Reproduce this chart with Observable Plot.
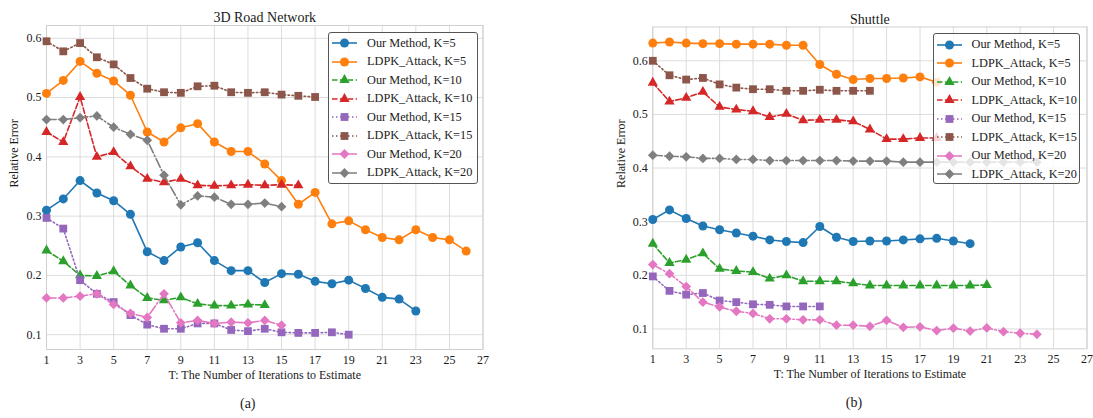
<!DOCTYPE html>
<html><head><meta charset="utf-8">
<script src="https://cdn.jsdelivr.net/npm/d3@7"></script>
<script src="https://cdn.jsdelivr.net/npm/@observablehq/plot@0.6"></script>
<style>
body{margin:0;background:#fff;}
#fig{position:relative;width:1093px;height:418px;overflow:hidden;background:#fff;font-family:"Liberation Serif","Times New Roman",serif;}
.panel{position:absolute;top:0;}
.panel text{font-family:"Liberation Serif","Times New Roman",serif;}
.legend{position:absolute;background:rgba(255,255,255,0.8);border:1px solid #555;border-radius:3px;box-sizing:border-box;padding:1.5px 0 0 3px;font-size:12.3px;color:#222;font-family:"Liberation Serif","Times New Roman",serif;}
.legend .row{display:flex;align-items:center;height:18.5px;white-space:nowrap;}
.legend svg{margin-right:10px;flex:none;}
</style></head><body><div id="fig"></div>
<script>
// ---- tick labels ----
const T_TICKS = [1,3,5,7,9,11,13,15,17,19,21,23,25,27];
const Y_TICKS = [0.1,0.2,0.3,0.4,0.5,0.6];
const X_LABEL = "T: The Number of Iterations to Estimate";
const Y_LABEL = "Relative Error";
const SERIES_NAMES = ["Our Method, K=5","LDPK_Attack, K=5","Our Method, K=10","LDPK_Attack, K=10",
                      "Our Method, K=15","LDPK_Attack, K=15","Our Method, K=20","LDPK_Attack, K=20"];

// ---- (a) 3D Road Network, values for T = 1, 2, 3, ... ----
const road_our_k5   = [0.310,0.329,0.360,0.339,0.326,0.303,0.240,0.225,0.248,0.255,0.225,0.208,0.208,0.188,0.203,0.202,0.190,0.186,0.192,0.178,0.163,0.160,0.140];
const road_ldpk_k5  = [0.507,0.529,0.561,0.541,0.528,0.504,0.442,0.425,0.449,0.456,0.425,0.409,0.409,0.388,0.360,0.320,0.340,0.287,0.292,0.277,0.264,0.260,0.277,0.264,0.260,0.241];
const road_our_k10  = [0.242,0.224,0.200,0.199,0.207,0.183,0.162,0.158,0.163,0.152,0.149,0.149,0.151,0.150];
const road_ldpk_k10 = [0.442,0.425,0.501,0.400,0.408,0.384,0.363,0.357,0.363,0.352,0.351,0.352,0.353,0.352,0.353,0.352];
const road_our_k15  = [0.297,0.279,0.192,0.169,0.155,0.133,0.117,0.110,0.110,0.119,0.119,0.108,0.106,0.110,0.104,0.103,0.103,0.104,0.100];
const road_ldpk_k15 = [0.595,0.578,0.592,0.568,0.556,0.533,0.515,0.509,0.508,0.519,0.520,0.509,0.508,0.509,0.505,0.503,0.501];
const road_our_k20  = [0.162,0.162,0.165,0.169,0.151,0.136,0.129,0.169,0.120,0.124,0.119,0.121,0.120,0.124,0.116];
const road_ldpk_k20 = [0.463,0.463,0.466,0.469,0.450,0.438,0.428,0.369,0.319,0.334,0.332,0.320,0.320,0.322,0.316];

// ---- (b) Shuttle ----
const sh_our_k5   = [0.304,0.322,0.306,0.292,0.285,0.279,0.273,0.266,0.263,0.261,0.291,0.271,0.263,0.264,0.264,0.266,0.268,0.269,0.264,0.259];
const sh_ldpk_k5  = [0.633,0.635,0.633,0.632,0.632,0.631,0.631,0.631,0.629,0.629,0.593,0.575,0.565,0.567,0.567,0.568,0.570,0.560];
const sh_our_k10  = [0.259,0.223,0.229,0.241,0.212,0.208,0.206,0.194,0.200,0.189,0.189,0.189,0.185,0.181,0.181,0.181,0.181,0.181,0.181,0.181,0.182];
const sh_ldpk_k10 = [0.559,0.524,0.531,0.542,0.514,0.509,0.506,0.495,0.501,0.489,0.490,0.490,0.487,0.472,0.454,0.454,0.456,0.456];
const sh_our_k15  = [0.198,0.171,0.164,0.167,0.153,0.150,0.146,0.145,0.142,0.142,0.142];
const sh_ldpk_k15 = [0.600,0.573,0.565,0.568,0.556,0.550,0.547,0.547,0.544,0.544,0.546,0.544,0.544,0.544];
const sh_our_k20  = [0.220,0.203,0.179,0.150,0.141,0.133,0.129,0.119,0.119,0.117,0.117,0.107,0.107,0.105,0.116,0.103,0.104,0.097,0.1015,0.096,0.102,0.095,0.092,0.090];
const sh_ldpk_k20 = [0.424,0.422,0.421,0.418,0.418,0.416,0.416,0.414,0.414,0.414,0.414,0.414,0.413,0.413,0.413,0.411,0.411,0.411,0.411,0.411,0.411,0.411,0.411,0.411];

// ---- styles ----
const FONT = '"Liberation Serif","Times New Roman",serif';
const DASHED = "5.5,2.4", DOTTED = "1.5,2.5", DASHDOT = "9.6,2.4,1.5,2.4";
const STYLES = [
  {color:"#1f77b4", dash:null,    symbol:"circle",   r:4.5},
  {color:"#ff7f0e", dash:null,    symbol:"circle",   r:4.5},
  {color:"#2ca02c", dash:DASHED,  symbol:"triangle", r:3.8},
  {color:"#d62728", dash:DASHED,  symbol:"triangle", r:3.8},
  {color:"#9467bd", dash:DOTTED,  symbol:"square",   r:4.4},
  {color:"#8c564b", dash:DOTTED,  symbol:"square",   r:4.4},
  {color:"#e377c2", dash:DASHDOT, symbol:"diamond2", r:4.4},
  {color:"#7f7f7f", dash:DASHDOT, symbol:"diamond2", r:4.4}
];
const SYM = {circle:d3.symbolCircle, triangle:d3.symbolTriangle, square:d3.symbolSquare, diamond2:d3.symbolDiamond2};

const toRows = vals => vals.map((v,i)=>({t:i+1, v}));

function panel(cfg){
  const marks = [
    Plot.gridX({ticks:T_TICKS, stroke:"#dcdcdc", strokeOpacity:1, strokeWidth:1}),
    Plot.gridY({ticks:Y_TICKS, stroke:"#dcdcdc", strokeOpacity:1, strokeWidth:1}),
    Plot.frame({stroke:"#cfcfcf", strokeWidth:1}),
    Plot.axisX({ticks:T_TICKS, tickSize:0, tickPadding:6, label:null, fill:"#1a1a1a", fontSize:12, fontFamily:FONT}),
    Plot.axisY({ticks:Y_TICKS, tickSize:0, tickPadding:5, label:null, fill:"#1a1a1a", fontSize:12, fontFamily:FONT, tickFormat:d3.format(".1f")})
  ];
  cfg.series.forEach((vals, k) => {
    const s = STYLES[k], rows = toRows(vals);
    marks.push(Plot.line(rows, {x:"t", y:"v", stroke:s.color, strokeWidth:1.6, strokeDasharray:s.dash || undefined}));
    marks.push(Plot.dot(rows, {x:"t", y:"v", symbol:s.symbol, r:s.r, fill:s.color, stroke:"none"}));
  });
  marks.push(Plot.text([cfg.title], {frameAnchor:"top", dy:-13, fontSize:14, fontFamily:FONT, fill:"#1a1a1a", text:d=>d}));
  marks.push(Plot.text([X_LABEL], {frameAnchor:"bottom", dy:29, fontSize:12, fontFamily:FONT, fill:"#1a1a1a", text:d=>d}));
  marks.push(Plot.text([Y_LABEL], {frameAnchor:"left", dx:-32, rotate:-90, fontSize:12, fontFamily:FONT, fill:"#1a1a1a", text:d=>d}));
  marks.push(Plot.text([cfg.caption], {frameAnchor:"bottom", dy:58, dx:cfg.capDx, fontSize:14, fontFamily:FONT, fill:"#1a1a1a", text:d=>d}));
  const svg = Plot.plot({
    width:cfg.width, height:418,
    marginLeft:cfg.mL, marginRight:cfg.mR, marginTop:cfg.mT, marginBottom:cfg.mB,
    x:{domain:[1,27]}, y:{domain:cfg.yDomain},
    style:{fontFamily:FONT, fontSize:"12px", background:"transparent", overflow:"visible"},
    marks
  });
  svg.classList.add("panel");
  svg.style.left = cfg.left + "px";
  return svg;
}

function legend(left, top, width, height){
  const div = document.createElement("div");
  div.className = "legend";
  Object.assign(div.style, {left:left+"px", top:top+"px", width:width+"px", height:height+"px"});
  SERIES_NAMES.forEach((name,k) => {
    const s = STYLES[k];
    const row = document.createElement("div"); row.className = "row";
    const sw = d3.create("svg").attr("width",25).attr("height",14);
    sw.append("line").attr("x1",0).attr("x2",25).attr("y1",7).attr("y2",7)
      .attr("stroke",s.color).attr("stroke-width",1.6).attr("stroke-dasharray", s.dash);
    sw.append("path").attr("transform","translate(12.5,7)")
      .attr("d", d3.symbol(SYM[s.symbol], Math.PI*s.r*s.r)()).attr("fill",s.color);
    row.appendChild(sw.node());
    const tx = document.createElement("span"); tx.textContent = name;
    row.appendChild(tx);
    div.appendChild(row);
  });
  return div;
}

const fig = document.getElementById("fig");
fig.appendChild(panel({
  title:"3D Road Network", caption:"(a)", capDx:-17, left:0, width:545,
  mL:46, mR:62.5, mT:25, mB:69, yDomain:[0.075,0.6216],
  series:[road_our_k5,road_ldpk_k5,road_our_k10,road_ldpk_k10,road_our_k15,road_ldpk_k15,road_our_k20,road_ldpk_k20]
}));
fig.appendChild(panel({
  title:"Shuttle", caption:"(b)", capDx:-16, left:545, width:548,
  mL:107.3, mR:6.5, mT:26.5, mB:69.7, yDomain:[0.063,0.663],
  series:[sh_our_k5,sh_ldpk_k5,sh_our_k10,sh_ldpk_k10,sh_our_k15,sh_ldpk_k15,sh_our_k20,sh_ldpk_k20]
}));
fig.appendChild(legend(328, 31.5, 149.5, 152));
fig.appendChild(legend(932.5, 33, 147.5, 150.5));
</script>
</body></html>
